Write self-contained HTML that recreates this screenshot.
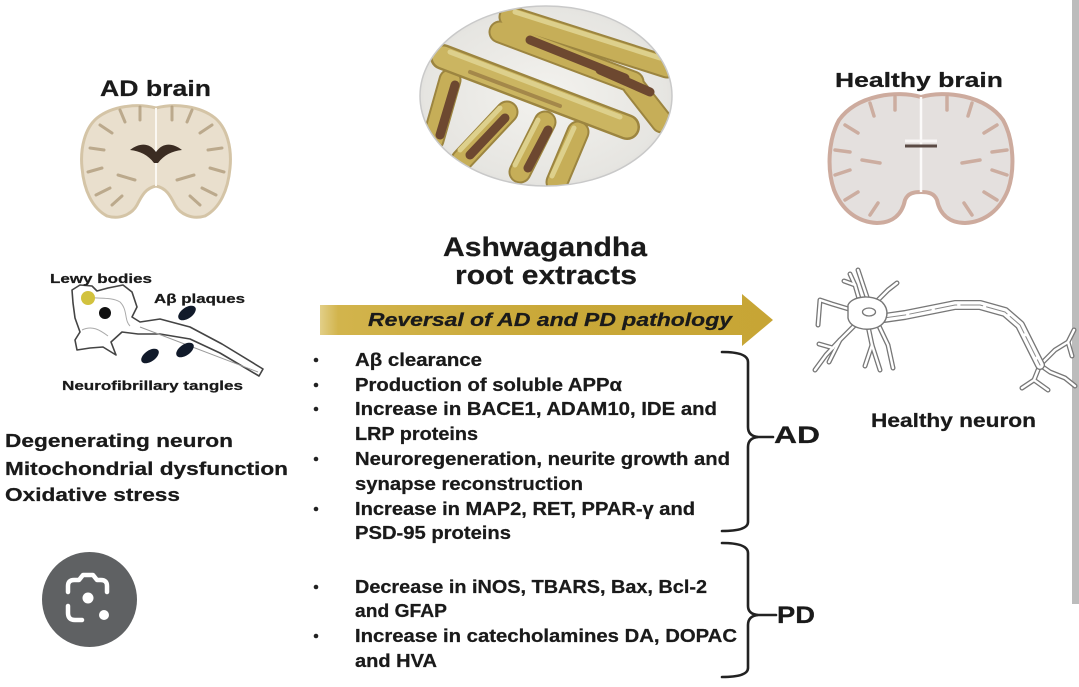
<!DOCTYPE html>
<html>
<head>
<meta charset="utf-8">
<style>
  html,body{margin:0;padding:0;background:#fff;}
  body{width:1079px;height:687px;overflow:hidden;position:relative;}
  svg{position:absolute;left:0;top:0;}
  .t{font-family:"Liberation Sans",Arial,sans-serif;font-weight:bold;fill:#1a1a1a;stroke:#1a1a1a;stroke-width:0.25;}
</style>
</head>
<body>
<svg width="1079" height="687" viewBox="0 0 1079 687" xmlns="http://www.w3.org/2000/svg">
  <defs>
    <clipPath id="ell"><ellipse cx="546" cy="96" rx="126" ry="90"/></clipPath>
    <radialGradient id="bgEll" cx="50%" cy="50%" r="60%">
      <stop offset="0" stop-color="#f3f2ee"/>
      <stop offset="0.8" stop-color="#e6e5e1"/>
      <stop offset="1" stop-color="#d2d2d0"/>
    </radialGradient>
    <linearGradient id="arrowG" x1="320" y1="0" x2="775" y2="0" gradientUnits="userSpaceOnUse">
      <stop offset="0" stop-color="#e2cf88"/>
      <stop offset="0.04" stop-color="#d2b44c"/>
      <stop offset="0.5" stop-color="#c9a838"/>
      <stop offset="1" stop-color="#c7a535"/>
    </linearGradient>
  </defs>

  <!-- right gray bar -->
  <rect x="1072" y="0" width="7" height="604" fill="#bcbcbc"/>

  <!-- ===== AD brain ===== -->
  <text class="t" x="100" y="96" font-size="22" textLength="111" lengthAdjust="spacingAndGlyphs">AD brain</text>
  <path d="M156,108 C175,103 200,106 215,118 C227,128 232,148 230,168 C228,190 220,208 205,216 C192,220 180,214 175,205 C170,195 166,188 156,186 C146,188 142,195 137,205 C132,214 120,220 107,216 C92,208 84,190 82,168 C80,148 85,128 97,118 C112,106 137,103 156,108 Z" fill="#e9dfcd" stroke="#d4c4a6" stroke-width="3"/>
  <g stroke="#b09c7c" stroke-width="3" fill="none" stroke-linecap="round" opacity="0.8">
    <path d="M100,125 L112,133"/><path d="M90,148 L104,150"/><path d="M88,172 L102,168"/><path d="M96,195 L110,188"/>
    <path d="M120,110 L125,122"/><path d="M140,107 L140,120"/><path d="M112,205 L122,196"/>
    <path d="M212,125 L200,133"/><path d="M222,148 L208,150"/><path d="M224,172 L210,168"/><path d="M216,195 L202,188"/>
    <path d="M192,110 L187,122"/><path d="M172,107 L172,120"/><path d="M200,205 L190,196"/>
    <path d="M118,175 L135,180"/><path d="M194,175 L177,180"/>
  </g>
  <path d="M156,108 L156,186" stroke="#fbf8f2" stroke-width="2"/>
  <path d="M130,150 C140,142 150,143 156,152 C162,143 172,142 182,150 C172,151 164,155 158,163 L154,163 C148,155 140,151 130,150 Z" fill="#3b2c22"/>

  <!-- ===== Left neuron ===== -->
  <path d="M72,290 L80,285 L92,286 L97,291 L108,288 L123,285 L132,292 L137,307 L132,317 L140,322 L160,319 L190,327 L222,344 L263,369 L259,376 L220,353 L190,339 L160,334 L138,334 L122,332 L111,342 L116,355 L103,347 L90,348 L77,350 L75,340 L80,332 L75,318 L73,303 Z" fill="#fff" stroke="#444" stroke-width="1.6" stroke-linejoin="round"/>
  <path d="M84,296 C95,300 110,296 120,302 C128,310 124,320 130,326" fill="none" stroke="#aaa" stroke-width="1"/>
  <path d="M82,330 C92,325 100,330 108,336" fill="none" stroke="#aaa" stroke-width="1"/>
  <path d="M140,327 L258,372" fill="none" stroke="#999" stroke-width="1"/>
  <circle cx="88" cy="298" r="7" fill="#d2c23e"/>
  <circle cx="105" cy="313" r="6" fill="#111"/>
  <ellipse cx="187" cy="313" rx="10" ry="5.5" transform="rotate(-35 187 313)" fill="#111a2a"/>
  <ellipse cx="150" cy="356" rx="10" ry="5.5" transform="rotate(-35 150 356)" fill="#111a2a"/>
  <ellipse cx="185" cy="350" rx="10" ry="5.5" transform="rotate(-35 185 350)" fill="#111a2a"/>
  <text class="t" x="50" y="283" font-size="13" textLength="102" lengthAdjust="spacingAndGlyphs">Lewy bodies</text>
  <text class="t" x="154" y="303" font-size="13" textLength="91" lengthAdjust="spacingAndGlyphs">Aβ plaques</text>
  <text class="t" x="62" y="390" font-size="13" textLength="181" lengthAdjust="spacingAndGlyphs">Neurofibrillary tangles</text>

  <!-- left labels -->
  <text class="t" x="5" y="447" font-size="18.5" textLength="228" lengthAdjust="spacingAndGlyphs">Degenerating neuron</text>
  <text class="t" x="5" y="475" font-size="18.5" textLength="283" lengthAdjust="spacingAndGlyphs">Mitochondrial dysfunction</text>
  <text class="t" x="5" y="501" font-size="18.5" textLength="175" lengthAdjust="spacingAndGlyphs">Oxidative stress</text>

  <!-- camera/lens button -->
  <circle cx="89.5" cy="599.5" r="47.5" fill="#5f6163"/>
  <g fill="none" stroke="#fff" stroke-width="4.5" stroke-linecap="round" stroke-linejoin="round">
    <path d="M68,592 L68,586 Q68,580 74,580 L79,580 L83,575 L93,575 L97,580 L101,580 Q107,580 107,586 L107,592"/>
    <path d="M68,606 L68,613 Q68,620 75,620 L82,620"/>
  </g>
  <circle cx="88" cy="598" r="5.5" fill="#fff"/>
  <circle cx="104" cy="615" r="5" fill="#fff"/>

  <!-- ===== Root image ===== -->
  <ellipse cx="546" cy="96" rx="126" ry="90" fill="url(#bgEll)"/>
  <g clip-path="url(#ell)" stroke-linecap="round" fill="none">
    <g stroke="#9c8540" stroke-width="23">
      <line x1="510" y1="17" x2="667" y2="67"/>
      <line x1="500" y1="32" x2="633" y2="82"/>
      <line x1="450" y1="80" x2="433" y2="140"/>
      <line x1="633" y1="85" x2="662" y2="122"/>
      <line x1="507" y1="112" x2="462" y2="160"/>
      <line x1="545" y1="122" x2="520" y2="172"/>
      <line x1="578" y1="132" x2="557" y2="182"/>
      <line x1="650" y1="30" x2="690" y2="45"/>
    </g>
    <g stroke="#c6ae58" stroke-width="19">
      <line x1="510" y1="17" x2="667" y2="67"/>
      <line x1="500" y1="32" x2="633" y2="82"/>
      <line x1="450" y1="80" x2="433" y2="140"/>
      <line x1="633" y1="85" x2="662" y2="122"/>
      <line x1="507" y1="112" x2="462" y2="160"/>
      <line x1="545" y1="122" x2="520" y2="172"/>
      <line x1="578" y1="132" x2="557" y2="182"/>
    </g>
    <g stroke="#6d4830" stroke-width="9">
      <line x1="530" y1="40" x2="625" y2="78"/>
      <line x1="505" y1="118" x2="470" y2="155"/>
      <line x1="548" y1="130" x2="528" y2="168"/>
      <line x1="455" y1="85" x2="440" y2="135"/>
      <line x1="600" y1="70" x2="650" y2="92"/>
    </g>
    <line x1="443" y1="57" x2="627" y2="127" stroke="#9c8540" stroke-width="26"/>
    <line x1="443" y1="57" x2="627" y2="127" stroke="#cbb561" stroke-width="21"/>
    <line x1="470" y1="72" x2="560" y2="106" stroke="#8a6a3a" stroke-width="4" opacity="0.6"/>
    <g stroke="#ddd08c" stroke-width="5">
      <line x1="450" y1="52" x2="620" y2="117"/>
      <line x1="515" y1="12" x2="660" y2="58"/>
      <line x1="500" y1="108" x2="460" y2="150"/>
      <line x1="538" y1="120" x2="515" y2="165"/>
      <line x1="574" y1="128" x2="552" y2="176"/>
    </g>
  </g>
  <ellipse cx="546" cy="96" rx="126" ry="90" fill="none" stroke="#c9c9c9" stroke-width="1.5"/>

  <!-- ===== Healthy brain ===== -->
  <text class="t" x="835" y="87" font-size="20" textLength="168" lengthAdjust="spacingAndGlyphs">Healthy brain</text>
  <path d="M921,97 C945,90 985,95 1003,120 C1014,140 1015,170 1008,190 C1000,210 985,222 965,223 C950,223 940,215 937,200 C934,193 928,192 921,192 C914,192 908,193 905,200 C902,215 892,223 877,223 C857,222 842,210 834,190 C827,170 828,140 839,120 C857,95 897,90 921,97 Z" fill="#e4e0de" stroke="#cdab9e" stroke-width="4"/>
  <g stroke="#c8a596" stroke-width="3.5" fill="none" stroke-linecap="round" opacity="0.85">
    <path d="M845,125 L858,133"/><path d="M835,150 L850,152"/><path d="M835,175 L850,170"/><path d="M845,200 L858,192"/>
    <path d="M870,103 L874,116"/><path d="M895,97 L895,110"/><path d="M870,215 L878,203"/>
    <path d="M997,125 L984,133"/><path d="M1007,150 L992,152"/><path d="M1007,175 L992,170"/><path d="M997,200 L984,192"/>
    <path d="M972,103 L968,116"/><path d="M947,97 L947,110"/><path d="M972,215 L964,203"/>
    <path d="M862,160 L880,163"/><path d="M980,160 L962,163"/>
  </g>
  <path d="M921,97 L921,192" stroke="#fbfaf9" stroke-width="2.5"/>
  <path d="M905,141 L937,141" stroke="#f8f6f5" stroke-width="3"/>
  <path d="M905,146 L937,146" stroke="#5a4a44" stroke-width="3"/>

  <!-- ===== Healthy neuron ===== -->
  <g fill="none" stroke-linecap="round" stroke-linejoin="round">
    <g stroke="#777" stroke-width="5">
      <path d="M860,302 L855,285 L850,274"/><path d="M855,285 L844,281"/>
      <path d="M868,300 L862,282 L858,270"/>
      <path d="M876,302 L888,290 L897,283"/>
      <path d="M852,310 L832,304 L820,300 L818,325"/>
      <path d="M856,324 L840,340 L826,355 L815,370"/><path d="M840,340 L829,362"/><path d="M833,348 L819,344"/>
      <path d="M868,326 L872,345 L880,370"/><path d="M872,345 L865,366"/>
      <path d="M878,324 L888,345 L893,368"/>
      <path d="M1040,365 L1050,372 L1065,378 L1075,386"/>
      <path d="M1040,365 L1055,350 L1068,342 L1074,330"/><path d="M1068,342 L1072,356"/>
      <path d="M1040,365 L1034,380 L1022,388"/><path d="M1034,380 L1048,390"/>
    </g>
    <g stroke="#fff" stroke-width="2.4">
      <path d="M860,302 L855,285 L850,274"/><path d="M855,285 L844,281"/>
      <path d="M868,300 L862,282 L858,270"/>
      <path d="M876,302 L888,290 L897,283"/>
      <path d="M852,310 L832,304 L820,300 L818,325"/>
      <path d="M856,324 L840,340 L826,355 L815,370"/><path d="M840,340 L829,362"/><path d="M833,348 L819,344"/>
      <path d="M868,326 L872,345 L880,370"/><path d="M872,345 L865,366"/>
      <path d="M878,324 L888,345 L893,368"/>
      <path d="M1040,365 L1050,372 L1065,378 L1075,386"/>
      <path d="M1040,365 L1055,350 L1068,342 L1074,330"/><path d="M1068,342 L1072,356"/>
      <path d="M1040,365 L1034,380 L1022,388"/><path d="M1034,380 L1048,390"/>
    </g>
    <path d="M884,318 L905,315 L930,310 L955,305 L980,305 L1005,312 L1020,325 L1030,345 L1040,365" stroke="#777" stroke-width="10"/>
    <path d="M884,318 L905,315 L930,310 L955,305 L980,305 L1005,312 L1020,325 L1030,345 L1040,365" stroke="#fff" stroke-width="7.4"/>
    <path d="M884,318 L905,315 L930,310 L955,305 L980,305 L1005,312 L1020,325 L1030,345 L1040,365" stroke="#888" stroke-width="1" stroke-dasharray="22 4"/>
  </g>
  <path d="M848,305 C852,296 872,294 882,302 C890,310 888,322 878,327 C866,332 850,328 848,318 Z" fill="#fff" stroke="#777" stroke-width="1.4"/>
  <ellipse cx="869" cy="312" rx="6.5" ry="4" fill="none" stroke="#777" stroke-width="1.3"/>
  <text class="t" x="871" y="427" font-size="19" textLength="165" lengthAdjust="spacingAndGlyphs">Healthy neuron</text>

  <!-- ===== Title ===== -->
  <text class="t" x="443" y="256" font-size="26.5" textLength="204" lengthAdjust="spacingAndGlyphs">Ashwagandha</text>
  <text class="t" x="455" y="284" font-size="26.5" textLength="182" lengthAdjust="spacingAndGlyphs">root extracts</text>

  <!-- ===== Arrow ===== -->
  <path d="M320,305 L742,305 L742,294 L773,320 L742,346 L742,335 L320,335 Z" fill="url(#arrowG)"/>
  <text class="t" x="368" y="326" font-size="18" font-style="italic" textLength="364" lengthAdjust="spacingAndGlyphs">Reversal of AD and PD pathology</text>

  <!-- ===== Bullets ===== -->
  <g fill="#222">
    <circle cx="316" cy="360" r="2.3"/>
    <circle cx="316" cy="385" r="2.3"/>
    <circle cx="316" cy="409" r="2.3"/>
    <circle cx="316" cy="459" r="2.3"/>
    <circle cx="316" cy="509" r="2.3"/>
    <circle cx="316" cy="587" r="2.3"/>
    <circle cx="316" cy="636" r="2.3"/>
  </g>
  <g font-size="18">
    <text class="t" x="355" y="366" textLength="127" lengthAdjust="spacingAndGlyphs">Aβ clearance</text>
    <text class="t" x="355" y="391" textLength="267" lengthAdjust="spacingAndGlyphs">Production of soluble APPα</text>
    <text class="t" x="355" y="415" textLength="362" lengthAdjust="spacingAndGlyphs">Increase in BACE1, ADAM10, IDE and</text>
    <text class="t" x="355" y="440" textLength="123" lengthAdjust="spacingAndGlyphs">LRP proteins</text>
    <text class="t" x="355" y="465" textLength="375" lengthAdjust="spacingAndGlyphs">Neuroregeneration, neurite growth and</text>
    <text class="t" x="355" y="490" textLength="228" lengthAdjust="spacingAndGlyphs">synapse reconstruction</text>
    <text class="t" x="355" y="515" textLength="340" lengthAdjust="spacingAndGlyphs">Increase in MAP2, RET, PPAR-γ and</text>
    <text class="t" x="355" y="539" textLength="156" lengthAdjust="spacingAndGlyphs">PSD-95 proteins</text>
    <text class="t" x="355" y="593" textLength="352" lengthAdjust="spacingAndGlyphs">Decrease in iNOS, TBARS, Bax, Bcl-2</text>
    <text class="t" x="355" y="617" textLength="92" lengthAdjust="spacingAndGlyphs">and GFAP</text>
    <text class="t" x="355" y="642" textLength="382" lengthAdjust="spacingAndGlyphs">Increase in catecholamines DA, DOPAC</text>
    <text class="t" x="355" y="667" textLength="82" lengthAdjust="spacingAndGlyphs">and HVA</text>
  </g>

  <!-- ===== Brackets ===== -->
  <g fill="none" stroke="#222" stroke-width="2.6" stroke-linecap="round">
    <path d="M722,352 Q748,352 748,362 L748,427 Q748,436 758,437 Q748,438 748,447 L748,522 Q748,531 722,531"/>
    <path d="M758,437 L773,437"/>
    <path d="M722,543 Q748,543 748,553 L748,606 Q748,614 758,615 Q748,616 748,625 L748,668 Q748,677 722,677"/>
    <path d="M758,615 L776,615"/>
  </g>
  <text class="t" x="774" y="443" font-size="24" textLength="46" lengthAdjust="spacingAndGlyphs">AD</text>
  <text class="t" x="777" y="623" font-size="24" textLength="38" lengthAdjust="spacingAndGlyphs">PD</text>
</svg>
</body>
</html>
